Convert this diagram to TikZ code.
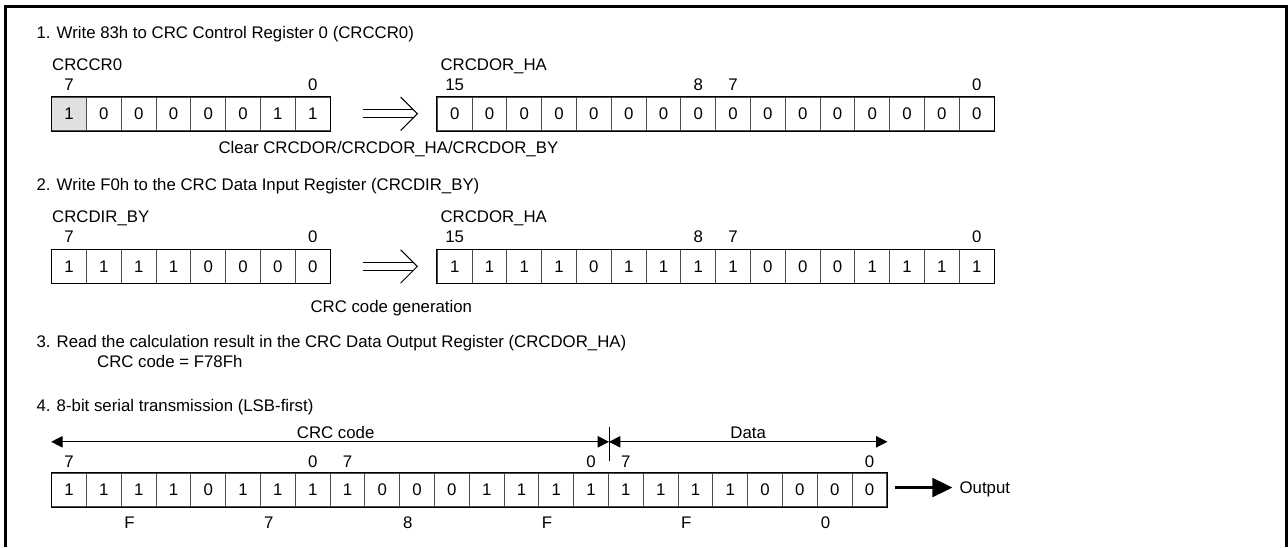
\documentclass[tikz,border=0pt]{standalone}
\usepackage{fontspec}
\setmainfont{Liberation Sans}
\usetikzlibrary{arrows.meta}

\definecolor{cellgray}{gray}{0.88}
\definecolor{divgray}{gray}{0.3}

% cell width and height (px)
\newcommand{\cw}{34.8}
\newcommand{\ch}{33.5}

\tikzset{
  bitcell/.style={draw=divgray, minimum width=\cw*0.75pt, minimum height=\ch*0.75pt, inner sep=0pt},
  lbl/.style={anchor=base, inner sep=0pt},
  txt/.style={anchor=base west, inner sep=0pt},
  dimarrow/.style={{Triangle[length=8.5pt,width=8.5pt]}-{Triangle[length=8.5pt,width=8.5pt]}},
  outarrow/.style={line width=2.6pt, -{Triangle[length=15pt,width=14pt]}},
}

% register: prefix, left x, top y, number of bits, bits
\newcommand{\bitrow}[5]{%
  \foreach \bv [count=\i] in {#5}
    \node[bitcell] (#1\i) at ({#2+(\i-0.5)*\cw}, {#3+\ch/2}) {\bv};
  \draw (#11.north west) rectangle (#1#4.south east);
}

% double arrow right of a register
\newcommand{\impl}[1]{%
  \draw (#1.east) ++(32,-4) -- ++(50.6,0) (#1.east) ++(32,4) -- ++(50.6,0);
  \draw (#1.east) ++(70,-16.7) -- ++(16.7,16.7) -- ++(-16.7,16.7);
}

\begin{document}
\begin{tikzpicture}[x=0.75pt, y=-0.75pt, line width=0.75pt, font=\fontsize{12.6pt}{15pt}\selectfont]
    \useasboundingbox (0,0) rectangle (1288,547);

    % Frame
    \draw[line width=2.25pt] (5.5,547) -- (5.5,6.5) -- (1286.5,6.5) -- (1286.5,547);

    % Step 1
    \node[txt] (t1) at (36,38) {1. Write 83h to CRC Control Register 0 (CRCCR0)};
    \node[txt] (n1) at (51.7,70) {CRCCR0};
    \fill[cellgray] (51.7,97) rectangle ++(\cw,\ch);
    \bitrow{ra}{51.7}{97}{8}{1,0,0,0,0,0,1,1}
    \path (ra1.north) ++(0,-6.5) node[lbl] (ra7) {7};
    \path (ra8.north) ++(0,-6.5) node[lbl] (ra0) {0};
    \impl{ra8}
    \node[txt] (n2) at (440,70) {CRCDOR\_HA};
    \bitrow{rb}{437.3}{97}{16}{0,0,0,0,0,0,0,0,0,0,0,0,0,0,0,0}
    \path (rb1.north) ++(0,-6.5) node[lbl] (rb15) {15};
    \path (rb8.north) ++(0,-6.5) node[lbl] (rb8l) {8};
    \path (rb9.north) ++(0,-6.5) node[lbl] (rb7) {7};
    \path (rb16.north) ++(0,-6.5) node[lbl] (rb0) {0};
    \node[txt] (c1) at (218,153) {Clear CRCDOR/CRCDOR\_HA/CRCDOR\_BY};

    % Step 2
    \node[txt] (t2) at (36,190.7) {2. Write F0h to the CRC Data Input Register (CRCDIR\_BY)};
    \node[txt] (n3) at (51.7,222.7) {CRCDIR\_BY};
    \bitrow{rc}{51.7}{249.7}{8}{1,1,1,1,0,0,0,0}
    \path (rc1.north) ++(0,-6.5) node[lbl] (rc7) {7};
    \path (rc8.north) ++(0,-6.5) node[lbl] (rc0) {0};
    \impl{rc8}
    \node[txt] (n4) at (440,222.7) {CRCDOR\_HA};
    \bitrow{re}{437.3}{249.7}{16}{1,1,1,1,0,1,1,1,1,0,0,0,1,1,1,1}
    \path (re1.north) ++(0,-6.5) node[lbl] (re15) {15};
    \path (re8.north) ++(0,-6.5) node[lbl] (re8l) {8};
    \path (re9.north) ++(0,-6.5) node[lbl] (re7) {7};
    \path (re16.north) ++(0,-6.5) node[lbl] (re0) {0};
    \node[txt] (c2) at (310,312.7) {CRC code generation};

    % Step 3
    \node[txt] (t3) at (36,347.7) {3. Read the calculation result in the CRC Data Output Register (CRCDOR\_HA)};
    \node[txt] (t3b) at (96.7,367.7) {CRC code = F78Fh};

    % Step 4
    \node[txt] (t4) at (36,411) {4. 8-bit serial transmission (LSB-first)};
    \bitrow{rd}{51.7}{473.3}{24}{1,1,1,1,0,1,1,1,1,0,0,0,1,1,1,1,1,1,1,1,0,0,0,0}
    \foreach \c/\v in {1/7, 8/0, 9/7, 16/0, 17/7, 24/0}
      \path (rd\c.north) ++(0,-5.6) node[lbl] (rdl\c) {\v};
    \foreach \c/\v in {1/F, 5/7, 9/8, 13/F, 17/F, 21/0}
      \path (rd\c.south west) ++({2.25*\cw},20.7) node[lbl] (hx\c) {\v};

    % Dimension arrows
    \path (rd1.north west) ++(0,-31) coordinate (cL);
    \path (rd16.north east) ++(0,-31) coordinate (cR);
    \path (rd24.north east) ++(0,-31) coordinate (dR);
    \draw (rd16.north east) ++(0,-11.5) -- ++(0,-34);
    \draw[dimarrow] (cL) -- (cR) node[pos=0.51, lbl, yshift=2.5pt] (crcl) {CRC code};
    \draw[dimarrow] (cR) -- (dR) node[midway, lbl, yshift=2.5pt] (datal) {Data};

    % Output
    \path (rd24.east) ++(8,-2.5) coordinate (oS);
    \path (rd24.east) ++(65,-2.5) coordinate (oE);
    \draw[outarrow] (oS) -- (oE);
    \path (oE) ++(6.7,6) node[txt] (outl) {Output};
\end{tikzpicture}
\end{document}
